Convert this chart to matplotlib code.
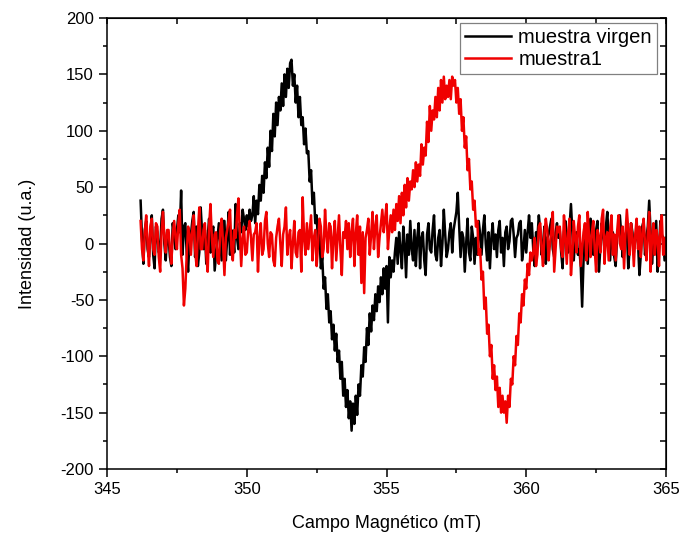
import numpy as np
import matplotlib
matplotlib.use("Agg")
import matplotlib.pyplot as plt
from matplotlib.ticker import MultipleLocator

plt.rcParams['font.family'] = ['Liberation Sans', 'DejaVu Sans']
plt.rcParams['axes.unicode_minus'] = False

# Field sweep (mT)
field_start = 346.2
field_stop = 365.0

# EPR intensity, virgin sample (one row per mT)
virgen = [
    38, 5, -18, 12, 20, -5, -12, 8, 25, -10, -22, 15, 10, -8, -5, 22, 30, 0, -15, 10,
    5, -12, -20, 18, 8, -5, 12, 25, 10, 47, -10, 15, 18, -8, -25, 5, 8, 20, 28, -12,
    15, -20, -8, 32, 10, -5, 12, -18, 5, 22, -8, 10, 15, -24, -10, 5, 18, 2, -15, 20,
    20, -15, 5, 28, -10, 12, 8, -8, 35, 5, -5, 18, 10, 30, 22, 12, 25, 15, 30, 20,
    25, 42, 18, 38, 26, 52, 38, 60, 45, 72, 58, 85, 68, 100, 82, 115, 95, 125, 105, 130,
    118, 142, 122, 150, 130, 155, 138, 160, 163, 140, 150, 125, 140, 112, 130, 105, 112, 88, 102, 80,
    82, 55, 65, 35, 45, 18, 25, 0, 8, -22, -12, -40, -30, -58, -45, -70, -60, -85, -72, -95,
    -80, -105, -95, -120, -105, -135, -120, -145, -130, -155, -140, -166, -142, -160, -135, -152, -125, -135, -108, -118,
    -92, -105, -75, -90, -62, -78, -55, -68, -45, -60, -38, -52, -30, -45, -22, -40, -20, -70, -12, -30,
    -15, -25, -8, 5, -18, 10, -5, -22, 15, 0, -30, 8, -10, 20, -5, -15, 12, -20, 5, 18,
    -22, 5, 10, -15, -28, 8, 18, -5, -8, 12, 25, -10, -15, 5, 12, -20, 0, 30, 8, -12,
    -5, 10, 18, -8, 12, 20, 28, 45, 15, -12, 10, 5, -25, 0, 22, -8, -15, 15, 5, -18,
    5, -10, 20, 8, -10, 12, 25, 0, -15, 10, -22, 5, 18, -5, 8, -12, 12, 20, -8, 5,
    -20, 10, 15, -5, 2, 20, 22, 8, -12, 5, 8, 18, 20, -15, -5, 12, -8, 10, 25, 5,
    18, -5, -20, 10, 5, 25, 12, -10, 0, 15, -18, 5, 8, 15, 22, -5, -12, 10, 18, 5,
    12, -8, -22, 10, 20, 5, -8, 15, 35, 10, -15, 5, 10, -10, -5, -20, -56, -15, 15, 8,
    -18, 5, 22, 10, -10, 0, 12, 20, -25, -5, 18, 8, -5, 15, 28, 5, -15, 8, 10, -12,
    -20, 5, 15, 25, 8, -12, 0, 8, 12, -22, -5, 18, 10, -8, 5, 12, 0, -28, -10, 15,
    20, -10, 5, 15, 38, 10, -18, 0, 10, 20, -25, -5, 20, 8, 5, -15, 5,
]

# EPR intensity, sample 1 (one row per mT)
muestra1 = [
    20, -5, -15, 10, 25, 0, -20, 15, 22, -5, -10, 18, 15, -12, -25, 10, 28, 5, -8, 12,
    12, -5, -18, 8, 20, 5, -5, 18, 30, -10, -22, -55, -40, -10, 15, 8, -10, 12, 25, -5,
    -20, 10, 32, -5, -5, 12, 18, -10, -25, 15, 35, 5, -12, 8, 10, -15, -18, 12, 22, 0,
    -28, 5, 12, 20, 30, -5, -15, 12, 5, 25, 40, 10, -20, 5, 15, -10, -8, 12, 20, 5,
    -15, 8, 10, 18, -25, 5, 18, -10, -5, 20, 28, 0, -12, 10, 8, -15, -20, 5, 15, 22,
    0, -20, 8, 15, 32, -10, 5, 12, -22, 0, 20, -8, -12, 10, 12, -25, 41, 5, -10, 18,
    -5, 10, 25, -15, 5, 12, -20, 0, 22, 15, -12, -5, 30, 8, -8, 18, 15, -22, 5, 20,
    -15, 5, 25, -5, -28, 10, 5, 20, -5, 18, -12, 10, 22, -20, 8, 25, -10, 15, -35, 10,
    -44, 5, 12, 22, -10, 8, 28, -5, 15, 25, -12, 5, 18, 30, 10, 22, 35, -5, 12, 25,
    10, 30, 12, 35, 20, 42, 18, 45, 25, 52, 32, 58, 38, 55, 48, 65, 50, 72, 55, 70,
    60, 88, 70, 85, 78, 108, 90, 122, 100, 118, 110, 130, 112, 138, 118, 145, 125, 148, 128, 140,
    130, 145, 128, 148, 140, 145, 125, 138, 115, 128, 100, 112, 85, 95, 65, 75, 48, 55, 30, 38,
    15, 20, -10, -5, -32, -25, -58, -48, -80, -72, -100, -90, -120, -108, -130, -118, -145, -128, -150, -135,
    -150, -140, -159, -135, -145, -120, -125, -100, -108, -82, -90, -62, -70, -45, -55, -32, -40, -18, -28, -8,
    -15, -8, 5, -20, -10, 15, 18, -5, -20, 8, 22, 12, -15, 0, 12, 28, -25, -5, 15, 10,
    15, -5, -12, 25, 5, -18, 10, 22, -28, -10, 20, 5, -8, 15, 25, -20, -5, 10, 18, -15,
    28, 5, -12, 10, 20, -5, -25, 12, 5, -8, 22, 30, -18, 5, 10, -15, 12, 25, -10, 8,
    -15, 10, 25, 0, -5, 15, -22, 8, 30, 12, -10, 18, 5, -20, 8, 22, -5, 15, -12, 8,
    22, 0, -15, 10, 28, -25, 5, 18, -10, 12, 5, -20, 15, 25, -10, 5, -10,
]

campo_v = np.linspace(field_start, field_stop, len(virgen))
campo_1 = np.linspace(field_start, field_stop, len(muestra1))

fig = plt.figure(figsize=(6.82, 5.36), dpi=100)
ax = fig.add_axes([0.157, 0.125, 0.8195, 0.8414])

ax.plot(campo_v, virgen, color='black', lw=1.8, label='muestra virgen')
ax.plot(campo_1, muestra1, color='#f00000', lw=1.8, label='muestra1')

ax.set_xlim(345, 365)
ax.set_ylim(-200, 200)
ax.xaxis.set_major_locator(MultipleLocator(5))
ax.xaxis.set_minor_locator(MultipleLocator(2.5))
ax.yaxis.set_major_locator(MultipleLocator(50))
ax.yaxis.set_minor_locator(MultipleLocator(25))

for sp in ax.spines.values():
    sp.set_linewidth(1.1)

ax.tick_params(which='major', direction='out', length=6, width=1.1,
               labelsize=12, colors='black')
ax.tick_params(which='minor', direction='out', length=3, width=1.1)

# inward ticks on the top and right frame edges
top = ax.secondary_xaxis('top')
top.xaxis.set_major_locator(MultipleLocator(2.5))
top.tick_params(direction='in', length=4, width=1.1, labeltop=False)
right = ax.secondary_yaxis('right')
right.yaxis.set_major_locator(MultipleLocator(25))
right.tick_params(direction='in', length=4, width=1.1, labelright=False)

ax.set_xlabel('Campo Magnético (mT)', fontsize=13, labelpad=13)
ax.set_ylabel('Intensidad (u.a.)', fontsize=13, labelpad=18)

leg = ax.legend(loc='upper right', bbox_to_anchor=(0.984, 0.989),
                borderaxespad=0, fontsize=14.5, fancybox=False,
                framealpha=1, edgecolor='#808080', handlelength=2.3,
                handletextpad=0.35, borderpad=0.25, labelspacing=0.15)
leg.get_frame().set_linewidth(0.9)

fig.savefig('out.png', dpi=100)
